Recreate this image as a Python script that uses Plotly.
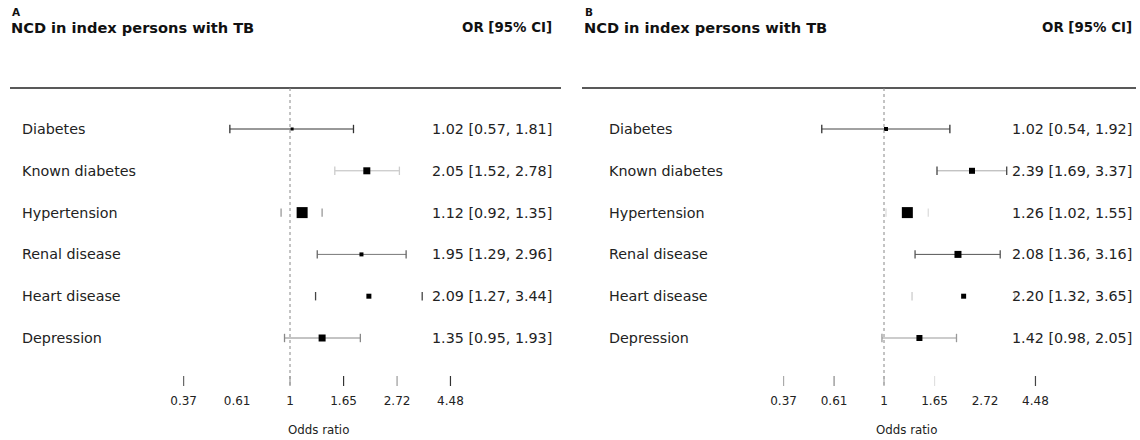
import math
import plotly.graph_objects as go

# Outcomes (same rows in both panels)
conditions = ["Diabetes", "Known diabetes", "Hypertension", "Renal disease",
              "Heart disease", "Depression"]

# Panel A: odds ratios with 95% confidence limits
or_a = [1.02, 2.05, 1.12, 1.95, 2.09, 1.35]
lo_a = [0.57, 1.52, 0.92, 1.29, 1.27, 0.95]
hi_a = [1.81, 2.78, 1.35, 2.96, 3.44, 1.93]

# Panel B: odds ratios with 95% confidence limits
or_b = [1.02, 2.39, 1.26, 2.08, 2.20, 1.42]
lo_b = [0.54, 1.69, 1.02, 1.36, 1.32, 0.98]
hi_b = [1.92, 3.37, 1.55, 3.16, 3.65, 2.05]

# Odds-ratio axis ticks (exp(-1) ... exp(1.5))
tick_vals = [0.37, 0.61, 1, 1.65, 2.72, 4.48]
tick_text = ["0.37", "0.61", "1", "1.65", "2.72", "4.48"]

W, H = 1140, 440
FONT = "DejaVu Sans, Verdana, sans-serif"

# square sizes (study weight) and line shades per row / per tick
box_a = [3, 7, 11, 4, 5, 7]
box_b = [4, 6, 11, 7, 5, 6]
ci_shade_a = ["#333333", "#bbbbbb", "#ffffff", "#777777", "#ffffff", "#888888"]
cap_shade_a = ["#333333", "#cccccc", "#999999", "#666666", "#444444", "#888888"]
ci_shade_b = ["#444444", "#aaaaaa", "#ffffff", "#555555", "#ffffff", "#999999"]
cap_shade_b = ["#333333", "#444444", "#dddddd", "#555555", "#cccccc", "#999999"]
tick_shade_a = ["#666666", "#ffffff", "#999999", "#333333", "#999999", "#333333"]
tick_shade_b = ["#aaaaaa", "#888888", "#aaaaaa", "#e0e0e0", "#ffffff", "#444444"]


def px_x(p):
    return p / W


def px_y(p):
    return 1 - p / H


def note(x, y, text, size, anchor="left", bold=False, yref="paper", color="#222"):
    fig.add_annotation(x=px_x(x), xref="paper", y=y, yref=yref,
                       text=f"<b>{text}</b>" if bold else text, showarrow=False,
                       xanchor=anchor, yanchor="middle",
                       font=dict(family=FONT, size=size, color=color))


fig = go.Figure()

panels = [
    dict(tag="A", est=or_a, lo=lo_a, hi=hi_a, box=box_a, ci=ci_shade_a, cap=cap_shade_a,
         ticks=tick_shade_a, xa="x", ya="y", left=10, right=561, head_x=9, label_x=20,
         val_x=554, title_x=318),
    dict(tag="B", est=or_b, lo=lo_b, hi=hi_b, box=box_b, ci=ci_shade_b, cap=cap_shade_b,
         ticks=tick_shade_b, xa="x2", ya="y2", left=582, right=1136, head_x=582,
         label_x=607, val_x=1134, title_x=906),
]

for p in panels:
    for i, name in enumerate(conditions):
        # confidence interval whisker
        fig.add_trace(go.Scatter(
            x=[p["lo"][i], p["hi"][i]], y=[name, name], mode="lines",
            line=dict(color=p["ci"][i], width=1), xaxis=p["xa"], yaxis=p["ya"],
            showlegend=False, hoverinfo="skip"))
        # end caps
        fig.add_trace(go.Scatter(
            x=[p["lo"][i], p["hi"][i]], y=[name, name], mode="markers",
            marker=dict(symbol="line-ns", size=6,
                        line=dict(color=p["cap"][i], width=1.3)),
            xaxis=p["xa"], yaxis=p["ya"], showlegend=False, hoverinfo="skip"))
        # point estimate
        fig.add_trace(go.Scatter(
            x=[p["est"][i]], y=[name], mode="markers",
            marker=dict(symbol="square", size=p["box"][i], color="black",
                        line=dict(width=0)),
            xaxis=p["xa"], yaxis=p["ya"], showlegend=False,
            hovertemplate=name + ": %{x:.2f}<extra></extra>"))
        # row label and OR [95% CI] text
        note(p["label_x"], name, name, 14.3, yref=p["ya"])
        note(p["val_x"], name,
             f"{p['est'][i]:.2f} [{p['lo'][i]:.2f}, {p['hi'][i]:.2f}]",
             14.3, anchor="right", yref=p["ya"])

    # headers
    note(p["head_x"] + 1, px_y(12), p["tag"], 10.5, bold=True, color="#111")
    note(p["head_x"], px_y(28), "NCD in index persons with TB", 14.6, bold=True,
         color="#111")
    note(p["val_x"], px_y(28), "OR [95% CI]", 13.4, anchor="right", bold=True,
         color="#111")
    note(p["title_x"], px_y(430), "Odds ratio", 11.8, anchor="center")

    # header rule and reference line at OR = 1
    fig.add_shape(type="line", xref="paper", yref="paper",
                  x0=px_x(p["left"]), x1=px_x(p["right"]), y0=px_y(88), y1=px_y(88),
                  line=dict(color="#222", width=1.6))
    fig.add_shape(type="line", xref=p["xa"], yref="paper", x0=1, x1=1,
                  y0=px_y(88), y1=px_y(386), line=dict(color="#888", width=1, dash="dot"))

    # axis tick marks
    for tv, shade in zip(tick_vals, p["ticks"]):
        fig.add_shape(type="line", xref=p["xa"], yref="paper", x0=tv, x1=tv,
                      y0=px_y(376), y1=px_y(386), line=dict(color=shade, width=1.2))


# x scales: pixel = origin + k * ln(OR)
def log_range(origin_px, k, dom_left_px, dom_right_px):
    return [(dom_left_px - origin_px) / k / math.log(10),
            (dom_right_px - origin_px) / k / math.log(10)]


axis_common = dict(type="log", tickvals=tick_vals, ticktext=tick_text,
                   showgrid=False, zeroline=False, showline=False,
                   ticks="outside", ticklen=9, tickwidth=1, tickcolor="rgba(0,0,0,0)",
                   tickfont=dict(family=FONT, size=12, color="#222"),
                   anchor="free", position=px_y(377), ticklabelstandoff=4,
                   fixedrange=True)

y_rng = [(H - 129) / 41.8, -129 / 41.8]
y_common = dict(type="category", categoryorder="array", categoryarray=conditions,
                range=y_rng, visible=False, domain=[0, 1], fixedrange=True)

fig.update_layout(
    width=W, height=H, margin=dict(l=0, r=0, t=0, b=0),
    paper_bgcolor="white", plot_bgcolor="white",
    xaxis=dict(domain=[0, 0.5], range=log_range(290, 107, 0, 570), **axis_common),
    xaxis2=dict(domain=[0.5, 1], range=log_range(884, 101, 570, 1140), **axis_common),
    yaxis=dict(anchor="x", **y_common),
    yaxis2=dict(anchor="x2", **y_common),
)

fig.write_html("out.html")
